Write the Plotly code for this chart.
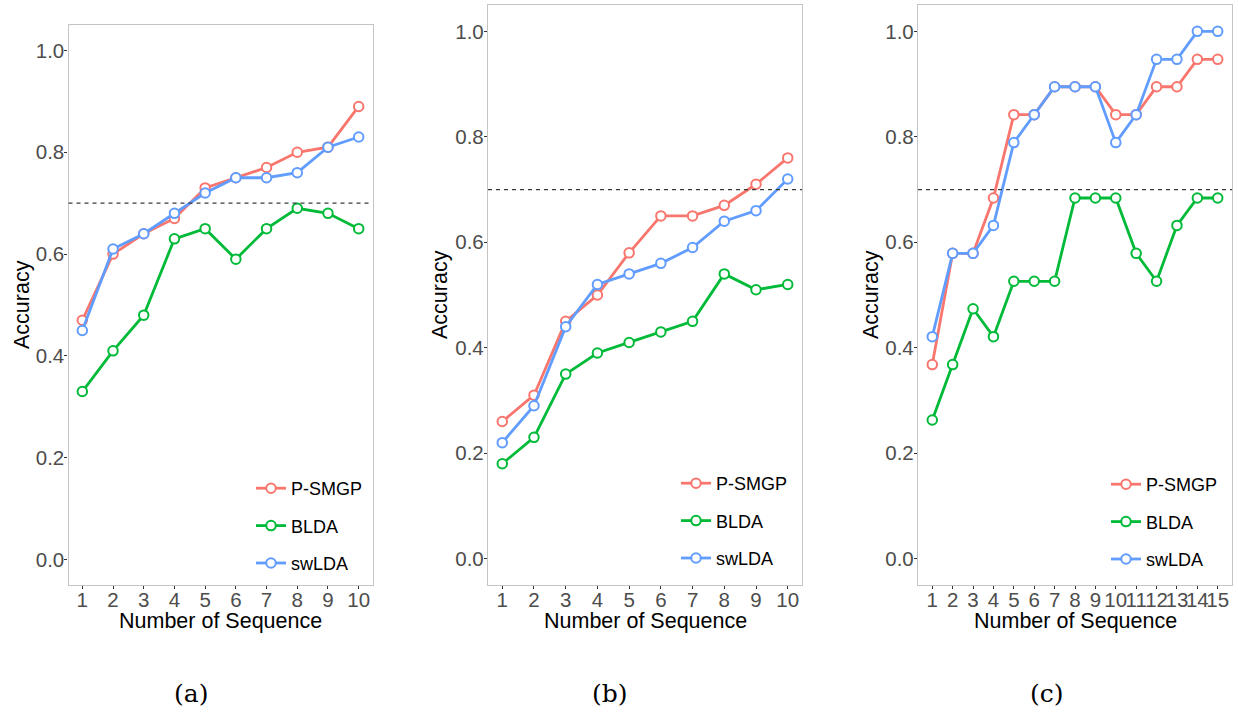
import plotly.graph_objects as go

# ---------------- data ----------------
seq_ab = list(range(1, 11))
seq_c = list(range(1, 16))

a_psmgp = [0.47, 0.60, 0.64, 0.67, 0.73, 0.75, 0.77, 0.80, 0.81, 0.89]
a_blda = [0.33, 0.41, 0.48, 0.63, 0.65, 0.59, 0.65, 0.69, 0.68, 0.65]
a_swlda = [0.45, 0.61, 0.64, 0.68, 0.72, 0.75, 0.75, 0.76, 0.81, 0.83]

b_psmgp = [0.26, 0.31, 0.45, 0.50, 0.58, 0.65, 0.65, 0.67, 0.71, 0.76]
b_blda = [0.18, 0.23, 0.35, 0.39, 0.41, 0.43, 0.45, 0.54, 0.51, 0.52]
b_swlda = [0.22, 0.29, 0.44, 0.52, 0.54, 0.56, 0.59, 0.64, 0.66, 0.72]

c_psmgp = [0.368, 0.579, 0.579, 0.684, 0.842, 0.842, 0.895, 0.895, 0.895, 0.842, 0.842, 0.895, 0.895, 0.947, 0.947]
c_blda = [0.263, 0.368, 0.474, 0.421, 0.526, 0.526, 0.526, 0.684, 0.684, 0.684, 0.579, 0.526, 0.632, 0.684, 0.684]
c_swlda = [0.421, 0.579, 0.579, 0.632, 0.789, 0.842, 0.895, 0.895, 0.895, 0.789, 0.842, 0.947, 0.947, 1.0, 1.0]

series_names = ["P-SMGP", "BLDA", "swLDA"]
y_ticks = [0.0, 0.2, 0.4, 0.6, 0.8, 1.0]
y_ticklabels = ["0.0", "0.2", "0.4", "0.6", "0.8", "1.0"]
threshold = 0.7
captions = ["(a)", "(b)", "(c)"]
x_title = "Number of Sequence"
y_title = "Accuracy"

# ---------------- style ----------------
colors = ["#F8766D", "#00BA38", "#619CFF"]
W, H = 1238, 715
FONT = "Liberation Sans, Arial, sans-serif"
TICKCOL = "#4D4D4D"

panels = [
    dict(x=seq_ab, ys=[a_psmgp, a_blda, a_swlda], xpix=(68.5, 372.5), ypix=(25, 585), xr=(0.55, 10.45)),
    dict(x=seq_ab, ys=[b_psmgp, b_blda, b_swlda], xpix=(488, 802), ypix=(5, 585), xr=(0.55, 10.45)),
    dict(x=seq_c, ys=[c_psmgp, c_blda, c_swlda], xpix=(918, 1232), ypix=(5, 585), xr=(0.3, 15.7)),
]
legend_pos = [(251, 470), (676, 465), (1106, 466)]
caption_x = [191, 610, 1047]
ytitle_x = [22, 440, 871]

fig = go.Figure()
layout = dict(
    width=W, height=H, margin=dict(l=0, r=0, t=0, b=0, autoexpand=False),
    paper_bgcolor="white", plot_bgcolor="white",
    font=dict(family=FONT, size=18, color="black"),
    annotations=[], shapes=[],
)

for i, p in enumerate(panels):
    sfx = "" if i == 0 else str(i + 1)
    xa, ya = "x" + sfx, "y" + sfx
    leg = "legend" + sfx
    for k in range(3):
        fig.add_trace(go.Scatter(
            x=p["x"], y=p["ys"][k], mode="lines+markers", name=series_names[k],
            xaxis=xa, yaxis=ya, legend=leg, legendgroup=f"{i}-{k}",
            line=dict(color=colors[k], width=2.8),
            marker=dict(symbol="circle", size=9.5, color="white",
                        line=dict(color=colors[k], width=2)),
            showlegend=True,
        ))
    x0, x1 = p["xpix"]
    yt, yb = p["ypix"]
    axis_common = dict(
        showgrid=False, zeroline=False, showline=True, mirror=True, automargin=False,
        linecolor="#C4C4C4", linewidth=1.3, ticks="outside", ticklen=3,
        tickcolor="#333333", tickwidth=1, ticklabelposition="outside",
        tickfont=dict(family=FONT, size=20.5, color=TICKCOL),
    )
    layout["xaxis" + sfx] = dict(
        axis_common, domain=[x0 / W, x1 / W], anchor=ya, range=list(p["xr"]),
        tickmode="array", tickvals=p["x"], ticktext=[str(v) for v in p["x"]], tickangle=0,
        ticklabelstandoff=-7,
    )
    layout["yaxis" + sfx] = dict(
        axis_common, domain=[(H - yb) / H, (H - yt) / H], anchor=xa, range=[-0.05, 1.05],
        tickmode="array", tickvals=y_ticks, ticktext=y_ticklabels,
        ticklabelstandoff=-4,
    )
    lx, ly = legend_pos[i]
    layout[leg] = dict(
        x=lx / W, y=(H - ly) / H, xanchor="left", yanchor="top", xref="paper", yref="paper",
        bgcolor="rgba(0,0,0,0)", borderwidth=0, tracegroupgap=11,
        font=dict(family=FONT, size=18, color="black"),
    )
    layout["shapes"].append(dict(
        type="line", xref=xa + " domain", x0=0, x1=1, yref=ya, y0=threshold, y1=threshold,
        line=dict(color="#3A3A3A", width=1.3, dash="4px,4px"),
    ))
    # axis titles
    layout["annotations"].append(dict(
        text=x_title, xref=xa + " domain", yref="paper", x=0.5, y=(H - 621) / H,
        showarrow=False, xanchor="center", yanchor="middle",
        font=dict(family=FONT, size=21.5, color="black"),
    ))
    layout["annotations"].append(dict(
        text=y_title, xref="paper", yref=ya + " domain", x=ytitle_x[i] / W, y=0.5,
        showarrow=False, xanchor="center", yanchor="middle", textangle=-90,
        font=dict(family=FONT, size=21.5, color="black"),
    ))
    layout["annotations"].append(dict(
        text=captions[i], xref="paper", yref="paper", x=caption_x[i] / W, y=(H - 693) / H,
        showarrow=False, xanchor="center", yanchor="middle",
        font=dict(family="DejaVu Serif, Liberation Serif, serif", size=25, color="black"),
    ))

fig.update_layout(**layout)
fig.write_html("out.html", config={"displayModeBar": False},
               post_script="document.body.style.margin='0';")
